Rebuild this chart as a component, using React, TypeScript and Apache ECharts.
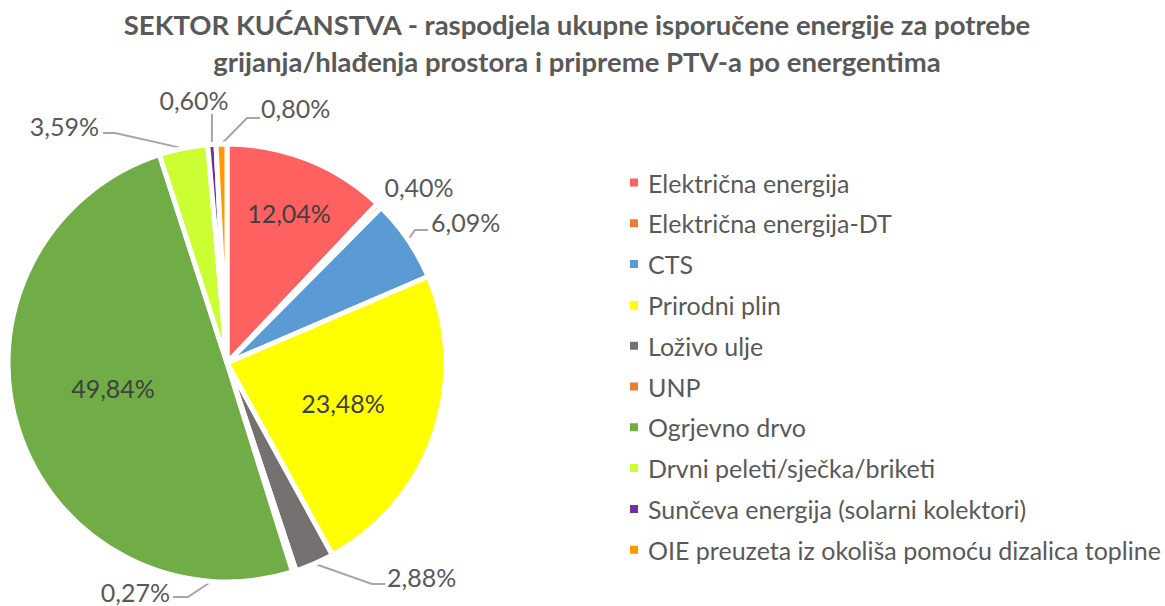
import React, { useEffect, useRef } from "react";
import * as echarts from "echarts";

const titleLines = [
  "SEKTOR KUĆANSTVA - raspodjela ukupne isporučene energije za potrebe",
  "grijanja/hlađenja prostora i pripreme PTV-a po energentima",
];
const categories = [
  "Električna energija",
  "Električna energija-DT",
  "CTS",
  "Prirodni plin",
  "Loživo ulje",
  "UNP",
  "Ogrjevno drvo",
  "Drvni peleti/sječka/briketi",
  "Sunčeva energija (solarni kolektori)",
  "OIE preuzeta iz okoliša pomoću dizalica topline",
];
const shares = [12.04, 0.4, 6.09, 23.48, 2.88, 0.27, 49.84, 3.59, 0.6, 0.8];
const colors = [
  "#FF6161",
  "#ED7D31",
  "#5B9BD5",
  "#FFFF00",
  "#767171",
  "#ED7D31",
  "#70AD47",
  "#CCFF33",
  "#7030A0",
  "#FF9900",
];
const insideLabels = ["Električna energija", "Prirodni plin", "Ogrjevno drvo"];

// label placement (layout only): text anchor + leader-line bends
type Place = {
  x: number;
  y: number;
  align: "left" | "center" | "right";
  start?: number[];
  bends?: number[][];
  noLine?: boolean;
};
const labelPlaces: Record<string, Place> = {
  "Električna energija": { x: 289, y: 213, align: "center", noLine: true },
  "Električna energija-DT": { x: 419, y: 187, align: "center", noLine: true },
  CTS: { x: 431, y: 222, align: "left", bends: [[415, 230], [428, 230]] },
  "Prirodni plin": { x: 343, y: 403, align: "center", noLine: true },
  "Loživo ulje": { x: 387, y: 577, align: "left", bends: [[372, 584], [385, 584]] },
  UNP: { x: 170, y: 592, align: "right", start: [278, 537], bends: [[188, 597], [173, 597]] },
  "Ogrjevno drvo": { x: 113, y: 388, align: "center", noLine: true },
  "Drvni peleti/sječka/briketi": { x: 99, y: 126, align: "right", bends: [[115, 133], [103, 133]] },
  "Sunčeva energija (solarni kolektori)": { x: 194, y: 100, align: "center", bends: [[212, 114]] },
  "OIE preuzeta iz okoliša pomoću dizalica topline": { x: 261, y: 108, align: "left", bends: [[247, 118], [260, 118]] },
};

const FONT = "Lato, 'Open Sans', sans-serif";

export default function App() {
  const ref = useRef<HTMLDivElement>(null);
  useEffect(() => {
    if (!ref.current) return;
    const chart = echarts.init(ref.current, undefined, { renderer: "svg" });
    const fmt = (v: number) => v.toFixed(2).replace(".", ",") + "%";
    chart.setOption({
      animation: false,
      backgroundColor: "#ffffff",
      title: {
        text: titleLines.join("\n"),
        left: 572,
        textAlign: "center",
        top: 1,
        textStyle: {
          fontFamily: FONT,
          fontWeight: "bold",
          fontSize: 27.5,
          color: "#595959",
          lineHeight: 37,
        },
      },
      legend: {
        orient: "vertical",
        left: 623,
        top: 165,
        icon: "rect",
        itemWidth: 10,
        itemHeight: 10,
        itemGap: 15.8,
        data: categories,
        textStyle: {
          fontFamily: FONT,
          fontSize: 25,
          lineHeight: 25,
          color: "#595959",
          padding: [0, 0, 0, 4],
        },
      },
      series: [
        {
          type: "pie",
          center: [227, 363],
          radius: 219,
          startAngle: 90,
          clockwise: true,
          minShowLabelAngle: 0,
          avoidLabelOverlap: false,
          itemStyle: { borderColor: "#ffffff", borderWidth: 5 },
          label: {
            show: true,
            position: "outside",
            fontFamily: FONT,
            fontSize: 25,
            color: "#595959",
            formatter: (p: any) => fmt(p.value),
          },
          labelLine: {
            show: true,
            length: 14,
            length2: 18,
            lineStyle: { color: "#A6A6A6", width: 2 },
          },
          labelLayout: (params: any) => {
            const name = categories[params.dataIndex];
            const pl = labelPlaces[name];
            if (!pl) return {};
            const res: any = {
              x: pl.x,
              y: pl.y,
              align: pl.align,
              verticalAlign: "middle",
            };
            if (!pl.noLine && params.labelLinePoints && pl.bends) {
              const start = pl.start || params.labelLinePoints[0];
              res.labelLinePoints = [start, ...pl.bends];
            }
            return res;
          },
          data: categories.map((name, i) => {
            const inside = insideLabels.includes(name);
            const pl = labelPlaces[name];
            return {
              name,
              value: shares[i],
              itemStyle: { color: colors[i] },
              label: inside ? { position: "inside", color: "#404040" } : undefined,
              labelLine: pl && pl.noLine ? { show: false } : undefined,
            };
          }),
        },
      ],
    });
    return () => chart.dispose();
  }, []);
  return (
    <div
      ref={ref}
      style={{ position: "fixed", left: 0, top: 0, width: 1165, height: 606 }}
    />
  );
}
